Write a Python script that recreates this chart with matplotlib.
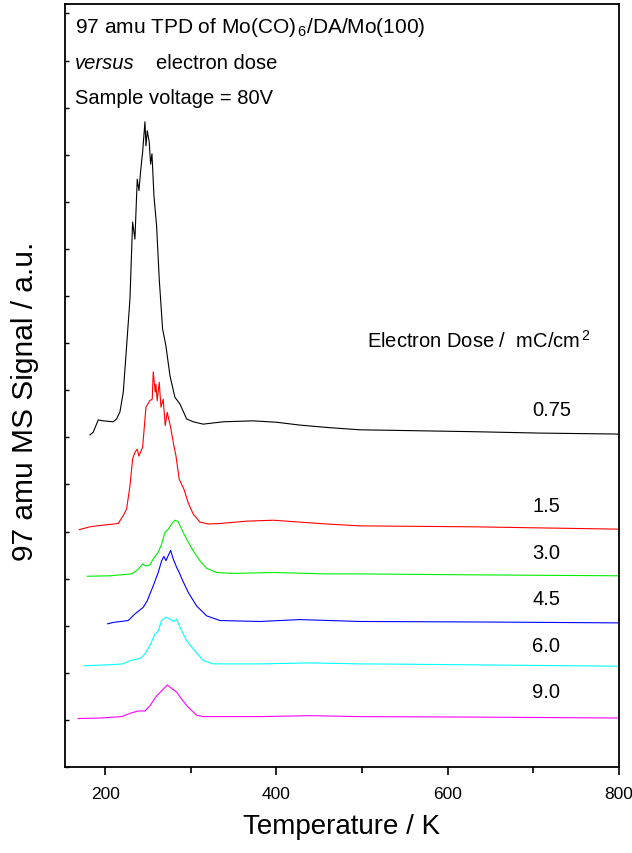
import matplotlib
matplotlib.use("Agg")
import matplotlib.pyplot as plt
from matplotlib.ticker import MultipleLocator, FixedLocator

plt.rcParams['font.family'] = ['Liberation Sans', 'DejaVu Sans']
plt.rcParams['mathtext.fontset'] = 'custom'
plt.rcParams['mathtext.rm'] = 'Liberation Sans'
plt.rcParams['mathtext.it'] = 'Liberation Sans:italic'

# ---- data (temperature in K, signal in a.u. incl. vertical offset) ----
T_075 = [182.2, 186.0, 191.9, 197.7, 209.4, 213.3, 217.2, 221.1, 225.0, 228.9, 232.0, 234.7,
         237.4, 239.4, 241.4, 243.7, 246.4, 247.6, 249.1, 251.4, 253.0, 254.6, 256.9, 260.0,
         263.1, 267.0, 270.9, 275.6, 281.4, 287.2, 295.1, 302.8, 314.4, 337.8, 372.8, 400.1,
         427.3, 458.5, 497.4, 629.3, 707.5, 797.4, 799.8]
S_075 = [7.05, 7.11, 7.37, 7.35, 7.33, 7.39, 7.54, 7.96, 8.94, 9.94, 11.57, 11.21,
         12.48, 12.24, 12.66, 13.06, 13.70, 13.19, 13.51, 13.27, 12.80, 13.02, 12.13, 11.49,
         10.36, 9.30, 8.94, 8.31, 7.85, 7.71, 7.39, 7.33, 7.28, 7.33, 7.35, 7.32,
         7.26, 7.21, 7.16, 7.12, 7.09, 7.07, 7.06]

T_15 = [169.7, 182.2, 190.0, 215.2, 221.1, 225.0, 228.9, 232.0, 234.7, 237.4, 239.4, 243.7,
        247.6, 252.2, 254.9, 256.1, 258.4, 259.2, 260.7, 263.1, 265.1, 267.7, 270.1, 272.4,
        276.4, 280.2, 282.6, 286.4, 291.9, 296.9, 302.8, 310.6, 320.3, 334.0, 365.1, 396.2,
        427.3, 458.5, 497.4, 629.3, 799.7]
S_15 = [5.04, 5.10, 5.12, 5.17, 5.34, 5.48, 5.97, 6.54, 6.68, 6.75, 6.60, 6.79,
        7.64, 7.78, 7.81, 8.39, 7.96, 8.13, 7.78, 8.17, 7.64, 7.81, 7.25, 7.53,
        7.21, 6.82, 6.61, 6.11, 5.90, 5.61, 5.37, 5.20, 5.16, 5.17, 5.22, 5.24,
        5.20, 5.16, 5.12, 5.10, 5.05]

T_30 = [179.0, 205.5, 230.8, 233.5, 238.6, 243.7, 247.6, 252.2, 256.1, 261.9, 265.9, 269.7,
        273.6, 277.5, 281.4, 285.3, 289.2, 295.1, 302.8, 310.6, 318.4, 330.1, 349.5, 396.2,
        458.5, 497.4, 629.3, 799.7]
S_30 = [4.05, 4.06, 4.10, 4.13, 4.20, 4.31, 4.27, 4.29, 4.42, 4.56, 4.73, 4.98,
        5.05, 5.16, 5.24, 5.21, 5.05, 4.84, 4.59, 4.38, 4.22, 4.13, 4.11, 4.13,
        4.10, 4.10, 4.08, 4.06]

T_45 = [202.8, 209.4, 226.9, 234.7, 244.4, 249.1, 256.1, 261.9, 265.9, 268.6, 270.9, 273.6,
        276.4, 279.4, 283.4, 286.4, 290.4, 296.9, 306.7, 318.4, 334.0, 380.6, 427.3, 497.4,
        629.3, 799.7]
S_45 = [3.04, 3.07, 3.11, 3.25, 3.39, 3.53, 3.85, 4.13, 4.38, 4.47, 4.38, 4.49,
        4.60, 4.42, 4.24, 4.13, 3.96, 3.71, 3.42, 3.21, 3.11, 3.09, 3.13, 3.09,
        3.08, 3.06]

T_60 = [175.2, 205.5, 221.1, 228.9, 236.7, 241.4, 246.4, 252.2, 258.1, 261.9, 265.9, 270.9,
        275.6, 280.2, 283.4, 287.2, 295.1, 302.8, 314.4, 326.1, 380.6, 439.0, 497.4, 629.3,
        799.7]
S_60 = [2.15, 2.17, 2.19, 2.26, 2.29, 2.31, 2.40, 2.58, 2.82, 2.89, 3.11, 3.18,
        3.14, 3.09, 3.14, 2.97, 2.68, 2.51, 2.26, 2.19, 2.19, 2.21, 2.19, 2.17,
        2.14]

T_90 = [168.5, 193.9, 219.2, 228.9, 238.6, 246.4, 252.2, 260.0, 267.7, 272.4, 277.5, 283.4,
        289.2, 296.9, 306.7, 314.4, 380.6, 439.0, 497.4, 629.3, 799.7]
S_90 = [1.03, 1.04, 1.07, 1.14, 1.19, 1.19, 1.30, 1.51, 1.65, 1.74, 1.67, 1.59,
        1.44, 1.27, 1.10, 1.07, 1.07, 1.09, 1.07, 1.06, 1.04]

doses = ["0.75", "1.5", "3.0", "4.5", "6.0", "9.0"]
label_y = [7.60, 5.56, 4.56, 3.57, 2.59, 1.61]
colors = ["black", "red", "#00ee00", "blue", "cyan", "magenta"]
series = [(T_075, S_075), (T_15, S_15), (T_30, S_30), (T_45, S_45), (T_60, S_60), (T_90, S_90)]

fig = plt.figure(figsize=(6.32, 8.54), dpi=100)
ax = fig.add_axes([0.1028, 0.1007, 0.8766, 0.8934])

for (t, s), c in zip(series, colors):
    ax.plot(t, s, color=c, lw=0.8)

FS = 14.5
for d, y in zip(doses, label_y):
    ax.text(699, y, d, fontsize=FS, ha='left', va='center')

ax.text(506, 9.07, r"Electron Dose /  mC/cm$^{\,2}$", fontsize=FS, ha='left', va='center')

ax.text(0.018, 0.971, r"97 amu TPD of Mo(CO)$_{\,6}$/DA/Mo(100)", transform=ax.transAxes,
        fontsize=15, ha='left', va='center')
ax.text(0.018, 0.924, "versus", transform=ax.transAxes, fontsize=FS, ha='left', va='center',
        style='italic')
ax.text(0.164, 0.924, "electron dose", transform=ax.transAxes, fontsize=FS, ha='left', va='center')
ax.text(0.018, 0.878, "Sample voltage = 80V", transform=ax.transAxes, fontsize=FS,
        ha='left', va='center')

ax.set_xlim(153, 800)
ax.set_ylim(0, 16.2)
ax.xaxis.set_major_locator(FixedLocator([200, 400, 600, 800]))
ax.xaxis.set_minor_locator(FixedLocator([300, 500, 700]))
ax.yaxis.set_major_locator(MultipleLocator(1))
ax.set_yticklabels([])
ax.tick_params(axis='x', which='major', direction='out', length=6, width=1.2, labelsize=12.5, pad=8)
ax.tick_params(axis='x', which='minor', direction='out', length=4, width=1.2)
ax.tick_params(axis='y', which='major', direction='in', length=3, width=1.0, left=True, right=False)
for sp in ax.spines.values():
    sp.set_linewidth(1.3)

ax.set_xlabel("Temperature / K", fontsize=20, labelpad=8)
ax.set_ylabel("97 amu MS Signal / a.u.", fontsize=21.5)
ax.yaxis.set_label_coords(-0.046, 0.481)

fig.savefig("out.png", dpi=100)
